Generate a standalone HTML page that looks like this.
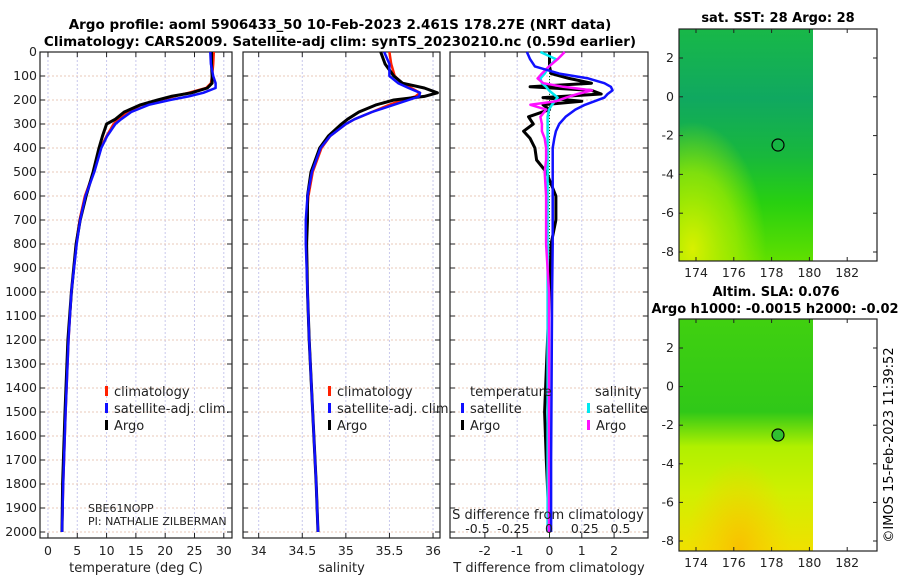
<!DOCTYPE html>
<html><head><meta charset="utf-8"><style>
body{margin:0;background:#fff;width:900px;height:580px;overflow:hidden;font-family:"Liberation Sans","DejaVu Sans",sans-serif}
svg text{font-family:"DejaVu Sans","Liberation Sans",sans-serif}
</style></head><body>
<svg id="c" width="900" height="580" viewBox="0 0 900 580" xmlns="http://www.w3.org/2000/svg">
<defs>
<linearGradient id="sst" x1="0" y1="0" x2="0" y2="1">
<stop offset="0" stop-color="#18b848"/><stop offset="0.3" stop-color="#10a860"/><stop offset="0.55" stop-color="#18b83c"/><stop offset="0.75" stop-color="#28d010"/><stop offset="1" stop-color="#60e000"/></linearGradient>
<radialGradient id="sstY" cx="0.1" cy="0.95" r="0.55"><stop offset="0" stop-color="#d8f000"/><stop offset="0.6" stop-color="#a8ec00" stop-opacity="0.7"/><stop offset="1" stop-color="#a8ec00" stop-opacity="0"/></radialGradient>
<linearGradient id="sla" x1="0" y1="0" x2="0" y2="1">
<stop offset="0" stop-color="#40d010"/><stop offset="0.4" stop-color="#30c818"/><stop offset="0.55" stop-color="#b0f000"/><stop offset="0.75" stop-color="#d0f000"/><stop offset="1" stop-color="#f0e000"/></linearGradient>
<radialGradient id="slaO" cx="0.45" cy="1" r="0.4"><stop offset="0" stop-color="#f8c000"/><stop offset="1" stop-color="#f8d000" stop-opacity="0"/></radialGradient>
</defs>
<g>
<text x="340" y="29" text-anchor="middle" font-size="13.5" font-weight="bold">Argo profile: aoml 5906433_50 10-Feb-2023 2.461S 178.27E (NRT data)</text>
<text x="340" y="46" text-anchor="middle" font-size="13.5" font-weight="bold">Climatology: CARS2009. Satellite-adj clim: synTS_20230210.nc (0.59d earlier)</text>
</g>
<g id="plots"></g>
<g>
<text x="778" y="22" text-anchor="middle" font-size="13" font-weight="bold">sat. SST: 28 Argo: 28</text>
<rect x="679" y="29" width="134" height="232" fill="url(#sst)"/>
<rect x="679" y="29" width="134" height="232" fill="url(#sstY)"/>
<circle cx="778" cy="145" r="6" fill="none" stroke="#000" stroke-width="1.2"/>
<rect x="679" y="29" width="198" height="232" fill="none" stroke="#222" stroke-width="1.2"/>
</g>
<g>
<text x="776" y="296" text-anchor="middle" font-size="13" font-weight="bold">Altim. SLA: 0.076</text>
<text x="775" y="313" text-anchor="middle" font-size="13" font-weight="bold">Argo h1000: -0.0015 h2000: -0.02</text>
<rect x="679" y="319" width="134" height="232" fill="url(#sla)"/>
<rect x="679" y="319" width="134" height="232" fill="url(#slaO)"/>
<circle cx="778" cy="435" r="6" fill="#30c030" stroke="#000" stroke-width="1.2"/>
<rect x="679" y="319" width="198" height="232" fill="none" stroke="#222" stroke-width="1.2"/>
</g>
<text transform="translate(893,445) rotate(-90)" text-anchor="middle" font-size="13">©IMOS 15-Feb-2023 11:39:52</text>
<g id="maps"></g>
</svg>
<script>
const depths=[0,50,100,130,150,170,185,200,220,250,280,300,350,400,500,600,700,800,1000,1200,1500,1800,2000];
const tempClim=[28.3,28.2,28.0,27.8,27.0,24.0,21.5,19.0,16.0,13.5,12.0,11.2,10.0,9.0,7.8,6.3,5.4,4.8,4.0,3.5,3.0,2.6,2.4];
const tempSat=[27.7,27.8,28.2,28.6,28.6,26.5,24.0,20.8,17.2,14.2,12.5,11.5,10.1,9.1,7.9,6.4,5.5,4.9,4.0,3.5,3.0,2.6,2.4];
const tempArgo=[27.9,27.9,28.0,28.0,27.2,24.5,21.0,18.7,15.8,13.0,11.5,10.0,9.3,8.7,7.7,6.5,5.5,4.8,4.0,3.4,2.9,2.5,2.4];
const salClim=[35.50,35.52,35.56,35.65,35.75,35.85,35.80,35.65,35.50,35.30,35.10,35.00,34.82,34.72,34.62,34.57,34.55,34.55,34.56,34.58,34.62,34.66,34.68];
const salSat=[35.44,35.50,35.50,35.60,35.72,35.85,35.84,35.72,35.55,35.30,35.10,35.00,34.82,34.71,34.61,34.56,34.54,34.54,34.56,34.58,34.62,34.66,34.68];
const salArgo=[35.40,35.45,35.55,35.65,35.90,36.05,35.90,35.55,35.35,35.15,35.02,34.95,34.80,34.70,34.60,34.56,34.56,34.55,34.56,34.58,34.62,34.66,34.68];
const diffDepths=[0,30,60,90,110,130,145,160,175,190,205,220,240,270,300,330,360,400,450,500,600,700,800,1000,1500,1700,2000];
const dTSat=[-0.7,-0.6,-0.45,0.3,1.2,1.7,1.9,1.95,1.8,1.7,1.4,1.1,0.8,0.5,0.3,0.2,0.15,0.1,0.1,0.1,0.1,0.1,0.1,0.08,0.06,0.05,0.05];
const dTArgo=[0,0,0,0.05,0.6,1.3,-0.6,1.3,1.6,-0.2,1.0,-0.2,0.0,-0.65,-0.5,-0.8,-0.6,-0.45,-0.4,-0.1,0.2,0.2,0.05,0,-0.15,-0.1,0];
const dSSat=[-0.06,0.05,0.0,-0.03,-0.06,-0.05,-0.02,0.0,0.03,0.06,0.04,0.02,0.0,-0.01,-0.01,-0.01,-0.01,-0.01,-0.01,-0.01,-0.01,-0.01,-0.01,-0.01,-0.01,-0.01,-0.01];
const dSArgo=[0.11,0.06,0.0,-0.05,-0.08,-0.04,0.1,0.3,0.2,0.12,0.05,-0.13,-0.02,-0.06,-0.05,-0.05,-0.03,-0.02,-0.02,-0.03,-0.02,-0.02,-0.02,0,0,0,0];
const depthTicks=[0,100,200,300,400,500,600,700,800,900,1000,1100,1200,1300,1400,1500,1600,1700,1800,1900,2000];
const tTicks=[0,5,10,15,20,25,30];
const sTicks=[34,34.5,35,35.5,36];
const dtTicks=[-2,-1,0,1,2];
const dsTicks=[-0.5,-0.25,0,0.25,0.5];
const lonTicks=[174,176,178,180,182];
const latTicks=[2,0,-2,-4,-6,-8];

const NS="http://www.w3.org/2000/svg";
const root=document.getElementById('plots');
function mk(tag,a,p){const e=document.createElementNS(NS,tag);for(const k in a)e.setAttribute(k,a[k]);(p||root).appendChild(e);return e;}
const yTop=52,yBot=538,dMax=2025;
const yD=d=>yTop+(d/dMax)*(yBot-yTop);
function panel(name,x0,x1,vmin,vmax,ticks,label,yLabels){
  const g=mk('g',{});
  
  
  const xs=v=>x0+(v-vmin)/(vmax-vmin)*(x1-x0);
  ticks.forEach(t=>{mk('line',{x1:xs(t),x2:xs(t),y1:yTop,y2:yBot,stroke:'#c8c8ec','stroke-dasharray':'2,2','stroke-width':1},g);});
  depthTicks.forEach(d=>{mk('line',{x1:x0,x2:x1,y1:yD(d),y2:yD(d),stroke:'#e8c8b8','stroke-dasharray':'2,2','stroke-width':1},g);
    mk('line',{x1:x0,x2:x0+5,y1:yD(d),y2:yD(d),stroke:'#222'},g);mk('line',{x1:x1-5,x2:x1,y1:yD(d),y2:yD(d),stroke:'#222'},g);
    if(yLabels){const t=mk('text',{x:x0-3,y:yD(d)+4,'text-anchor':'end','font-size':12.5,fill:'#222'},g);t.textContent=d;}});
  mk('rect',{x:x0,y:yTop,width:x1-x0,height:yBot-yTop,fill:'none',stroke:'#222','stroke-width':1.2},g);
  ticks.forEach(t=>{mk('line',{x1:xs(t),x2:xs(t),y1:yBot,y2:yBot-5,stroke:'#222'},g);mk('line',{x1:xs(t),x2:xs(t),y1:yTop,y2:yTop+5,stroke:'#222'},g);
    const tx=mk('text',{x:xs(t),y:yBot+17,'text-anchor':'middle','font-size':12.5,fill:'#222'},g);tx.textContent=t;});
  if(label){const l=mk('text',{x:(x0+x1)/2,y:572,'text-anchor':'middle','font-size':13,fill:'#222'},g);l.textContent=label;}
  return {g,xs};
}
function line(p,vals,ds,color,w,name){
  const pts=vals.map((v,i)=>p.xs(v).toFixed(1)+','+yD(ds[i]).toFixed(1)).join(' ');
  const e=mk('polyline',{points:pts,fill:'none',stroke:color,'stroke-width':w,'stroke-linejoin':'round'},p.g);
  
  
}
function legend(g,x,y,items){items.forEach((it,i)=>{mk('rect',{x:x,y:y+i*17-10,width:3,height:10,fill:it[1]},g);const t=mk('text',{x:x+9,y:y+i*17,'font-size':13,fill:'#222'},g);t.textContent=it[0];});}

const p1=panel('temperature-panel',40,232,-1.36,31.4,tTicks,'temperature (deg C)',true);
line(p1,tempClim,depths,'#ff2000',2.5,'temperature-climatology-line');
line(p1,tempArgo,depths,'#000',3,'temperature-argo-line');
line(p1,tempSat,depths,'#1010ff',2.5,'temperature-satellite-line');
legend(p1.g,105,396,[['climatology','#ff2000'],['satellite-adj. clim.','#1010ff'],['Argo','#000']]);
let t=mk('text',{x:88,y:512,'font-size':11,fill:'#222'},p1.g);t.textContent='SBE61NOPP';
t=mk('text',{x:88,y:525,'font-size':11,fill:'#222'},p1.g);t.textContent='PI: NATHALIE ZILBERMAN';

const p2=panel('salinity-panel',243,440,33.82,36.08,sTicks,'salinity',false);
line(p2,salClim,depths,'#ff2000',2.5,'salinity-climatology-line');
line(p2,salArgo,depths,'#000',3,'salinity-argo-line');
line(p2,salSat,depths,'#1010ff',2.5,'salinity-satellite-line');
legend(p2.g,328,396,[['climatology','#ff2000'],['satellite-adj. clim.','#1010ff'],['Argo','#000']]);

const p3=panel('difference-panel',450,648,-3.08,3.05,dtTicks,'T difference from climatology',false);
const p3s={g:p3.g,xs:v=>549+v*143};
mk('line',{x1:549.5,x2:549.5,y1:yTop,y2:yBot,stroke:'#060','stroke-dasharray':'1,2'},p3.g);
line(p3,dTArgo,diffDepths,'#000',3,'temp-diff-argo-line');
line(p3s,dSSat,diffDepths,'#00e8f0',2.5,'sal-diff-satellite-line');
line(p3s,dSArgo,diffDepths,'#ff10ff',2.5,'sal-diff-argo-line');
line(p3,dTSat,diffDepths,'#1010ff',2.5,'temp-diff-satellite-line');
t=mk('text',{x:470,y:396,'font-size':13,fill:'#222'},p3.g);t.textContent='temperature';
t=mk('text',{x:595,y:396,'font-size':13,fill:'#222'},p3.g);t.textContent='salinity';
legend(p3.g,461,413,[['satellite','#1010ff'],['Argo','#000']]);
legend(p3.g,587,413,[['satellite','#00e8f0'],['Argo','#ff10ff']]);
t=mk('text',{x:548,y:519,'text-anchor':'middle','font-size':13,fill:'#222'},p3.g);t.textContent='S difference from climatology';
dsTicks.forEach(v=>{const e=mk('text',{x:p3s.xs(v),y:533,'text-anchor':'middle','font-size':12.5,fill:'#222'},p3.g);e.textContent=v;});

const mg=document.getElementById('maps');
[[29,261],[319,551]].forEach(([y0,y1],mi)=>{
  const lx=v=>696+(v-174)*18.9;
  const ly=v=>(mi?348:58)+(2-v)*((mi?541:252)-(mi?348:58))/10;
  lonTicks.forEach(v=>{mk('line',{x1:lx(v),x2:lx(v),y1:y1,y2:y1-4,stroke:'#222'},mg);mk('line',{x1:lx(v),x2:lx(v),y1:y0,y2:y0+4,stroke:'#222'},mg);
    const e=mk('text',{x:lx(v),y:y1+16,'text-anchor':'middle','font-size':12.5,fill:'#222'},mg);e.textContent=v;});
  latTicks.forEach(v=>{mk('line',{x1:679,x2:683,y1:ly(v),y2:ly(v),stroke:'#222'},mg);mk('line',{x1:873,x2:877,y1:ly(v),y2:ly(v),stroke:'#222'},mg);
    const e=mk('text',{x:674,y:ly(v)+4,'text-anchor':'end','font-size':12.5,fill:'#222'},mg);e.textContent=v;});
});
</script>
</body></html>
